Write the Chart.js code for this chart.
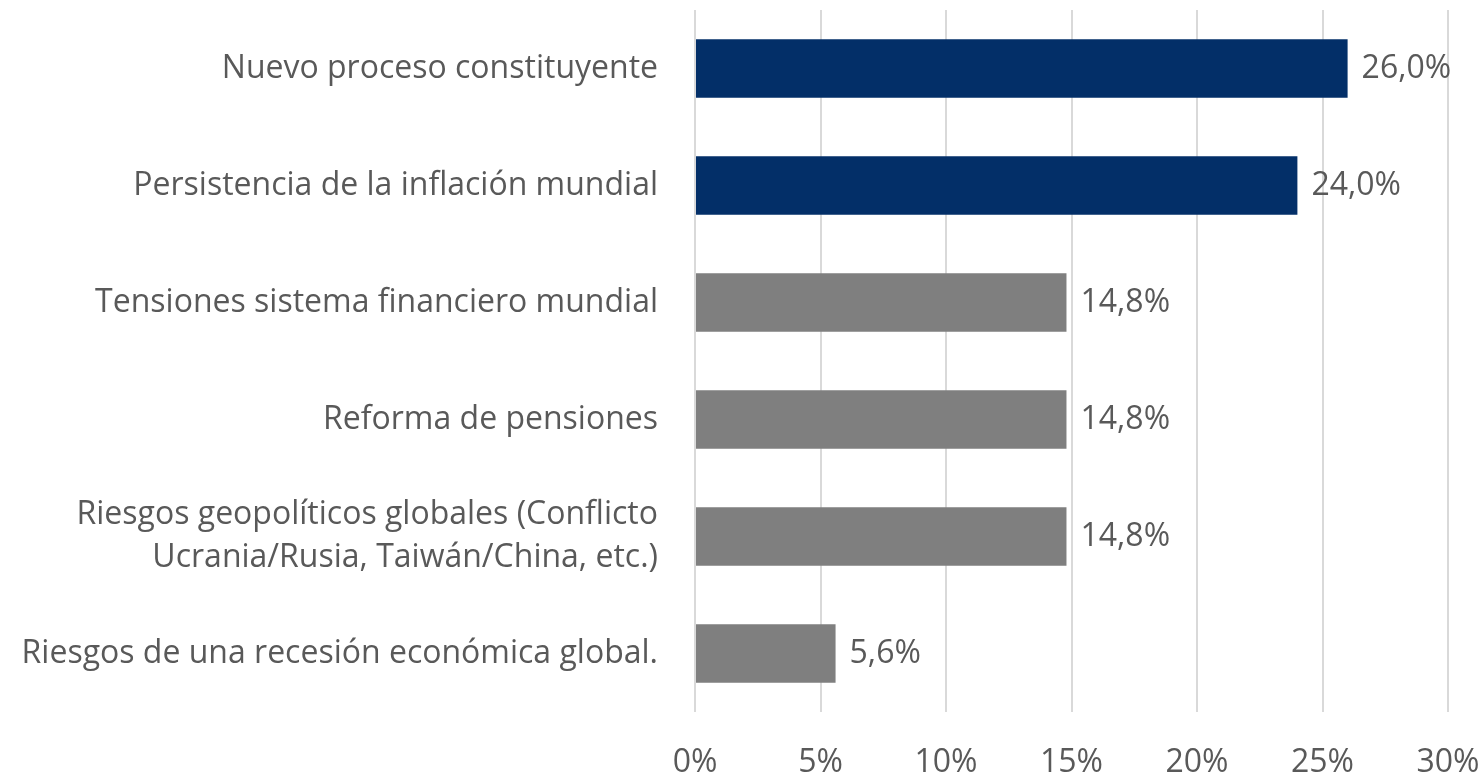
<!DOCTYPE html>
<html>
<head>
<meta charset="utf-8">
<script src="https://cdn.jsdelivr.net/npm/chart.js@4.4.0/dist/chart.umd.min.js"></script>
<style>
  body { margin: 0; background: #ffffff; }
  #wrap { width: 1483px; height: 776px; }
</style>
</head>
<body>
<div id="wrap"><canvas id="chart" width="1483" height="776"></canvas></div>
<script>
// 項目名（複数行のものは配列）
const categories = [
    'Nuevo proceso constituyente',
    'Persistencia de la inflación mundial',
    'Tensiones sistema financiero mundial',
    'Reforma de pensiones',
    ['Riesgos geopolíticos globales (Conflicto', 'Ucrania/Rusia, Taiwán/China, etc.)'],
    'Riesgos de una recesión económica global.'
];
// 回答の割合（％）
const shares = [26.0, 24.0, 14.8, 14.8, 14.8, 5.6];
// 上位2項目は紺色、それ以外は灰色
const barColors = ['#032F68', '#032F68', '#7F7F7F', '#7F7F7F', '#7F7F7F', '#7F7F7F'];
// 横軸の目盛り
const axisMin = 0;
const axisMax = 30;
const axisStep = 5;

const textColor = '#595959';
const fontFamily = '"Open Sans", sans-serif';
const fontSize = 32;

// 棒の右側に値を描くプラグイン
const valueLabels = {
    id: 'valueLabels',
    afterDatasetsDraw(chart) {
        const ctx = chart.ctx;
        const meta = chart.getDatasetMeta(0);
        ctx.save();
        ctx.fillStyle = textColor;
        ctx.font = fontSize + 'px ' + fontFamily;
        ctx.textAlign = 'left';
        ctx.textBaseline = 'middle';
        meta.data.forEach((bar, i) => {
            const text = shares[i].toFixed(1).replace('.', ',') + '%';
            ctx.fillText(text, bar.x + 14, bar.y);
        });
        ctx.restore();
    }
};

const ctx = document.getElementById('chart').getContext('2d');
new Chart(ctx, {
    type: 'bar',
    data: {
        labels: categories,
        datasets: [{
            data: shares,
            backgroundColor: barColors,
            borderWidth: 0,
            categoryPercentage: 1.0,
            barPercentage: 0.5
        }]
    },
    options: {
        indexAxis: 'y',
        responsive: false,
        animation: false,
        layout: { padding: { top: 10, right: 35, left: 0, bottom: 0 } },
        plugins: {
            legend: { display: false },
            tooltip: { enabled: false }
        },
        scales: {
            x: {
                min: axisMin,
                max: axisMax,
                grid: { color: '#D9D9D9', lineWidth: 2, drawTicks: false },
                border: { display: false },
                ticks: {
                    stepSize: axisStep,
                    color: textColor,
                    padding: 32,
                    font: { family: fontFamily, size: fontSize },
                    maxRotation: 0,
                    callback: v => v + '%'
                },
                afterFit: scale => {
                    scale.height = 64;
                    scale.paddingLeft = 0;
                    scale.paddingRight = 0;
                }
            },
            y: {
                grid: { display: false, drawTicks: false },
                border: { display: false },
                ticks: {
                    color: textColor,
                    padding: 37,
                    font: { family: fontFamily, size: fontSize, lineHeight: 1.35 }
                },
                afterFit: scale => {
                    scale.width = 695;
                    scale.paddingTop = 0;
                    scale.paddingBottom = 0;
                }
            }
        }
    },
    plugins: [valueLabels]
});
</script>
</body>
</html>
